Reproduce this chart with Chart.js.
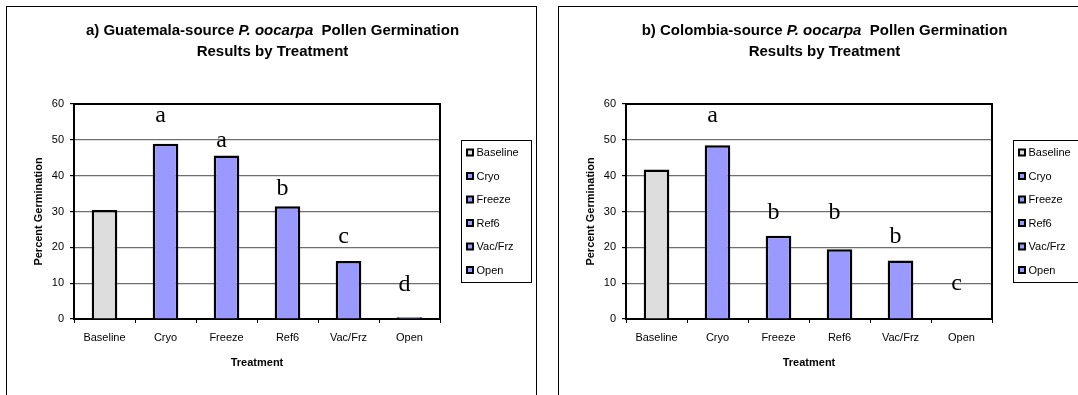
<!DOCTYPE html>
<html>
<head>
<meta charset="utf-8">
<script src="https://cdn.jsdelivr.net/npm/chart.js@4"></script>
<style>
  html, body { margin: 0; padding: 0; background: #fff; overflow: hidden; width: 1078px; height: 395px; }
  .frame { position: absolute; top: 6px; width: 529px; height: 400px; border: 1px solid #000; background: #fff; }
  canvas { display: block; }
</style>
</head>
<body>
<div class="frame" style="left:6px"><canvas id="chartA" width="529" height="400"></canvas></div>
<div class="frame" style="left:558px"><canvas id="chartB" width="529" height="400"></canvas></div>
<script>
// ---- data ----
const categories = ['Baseline', 'Cryo', 'Freeze', 'Ref6', 'Vac/Frz', 'Open'];
const guatemalaGermination = [30.4, 48.9, 45.6, 31.5, 16.2, 0.5];
const colombiaGermination = [41.7, 48.5, 23.2, 19.5, 16.3, 0];
const guatemalaLetters = ['', 'a', 'a', 'b', 'c', 'd'];
const guatemalaLetterAt = [null, 55.1, 48.1, 34.6, 21.3, 7.9];
const colombiaLetters = ['', 'a', 'b', 'b', 'b', 'c'];
const colombiaLetterAt = [null, 55.0, 28.0, 28.0, 21.3, 8.2];
const yMin = 0, yMax = 60, yStep = 10;
const titleA = [['a) Guatemala-source ', false], ['P. oocarpa', true], ['  Pollen Germination', false]];
const titleB = [['b) Colombia-source ', false], ['P. oocarpa', true], ['  Pollen Germination', false]];
const titleLine2 = 'Results by Treatment';
const xTitle = 'Treatment';
const yTitle = 'Percent Germination';

// ---- styles ----
const SANS = '"Liberation Sans", Arial, Helvetica, sans-serif';
const SERIF = '"Liberation Serif", "Times New Roman", serif';
const GREY = '#dddddd';
const BLUE = '#9999ff';
const barColors = categories.map((c, i) => i === 0 ? GREY : BLUE);

function makeChart(canvasId, values, titleParts, letters, letterAt) {
  const overlay = {
    id: 'overlay',
    afterDraw(chart) {
      const ctx = chart.ctx;
      const ca = chart.chartArea;
      const xs = chart.scales.x, ys = chart.scales.y;
      ctx.save();
      // plot frame (top + right)
      ctx.strokeStyle = '#000';
      ctx.lineWidth = 2;
      ctx.beginPath();
      ctx.moveTo(ca.left, ca.top);
      ctx.lineTo(ca.right, ca.top);
      ctx.lineTo(ca.right, ca.bottom);
      ctx.stroke();

      // title
      ctx.fillStyle = '#000';
      ctx.textBaseline = 'alphabetic';
      ctx.textAlign = 'left';
      const fN = 'bold 15px ' + SANS, fI = 'italic bold 15px ' + SANS;
      let total = 0;
      titleParts.forEach(([t, it]) => { ctx.font = it ? fI : fN; total += ctx.measureText(t).width; });
      let tx = 265.5 - total / 2;
      titleParts.forEach(([t, it]) => { ctx.font = it ? fI : fN; ctx.fillText(t, tx, 27.5); tx += ctx.measureText(t).width; });
      ctx.font = fN;
      ctx.textAlign = 'center';
      ctx.fillText(titleLine2, 265.5, 49);

      // axis titles
      ctx.font = 'bold 11px ' + SANS;
      ctx.fillText(xTitle, (ca.left + ca.right) / 2, 358.5);
      ctx.save();
      ctx.translate(35, (ca.top + ca.bottom) / 2);
      ctx.rotate(-Math.PI / 2);
      ctx.fillText(yTitle, 0, 0);
      ctx.restore();

      // significance letters
      ctx.font = '24px ' + SERIF;
      ctx.textAlign = 'center';
      letters.forEach((l, i) => {
        if (!l) return;
        ctx.fillText(l, xs.getPixelForValue(i) - 5, ys.getPixelForValue(letterAt[i]));
      });

      // legend
      const lx = 454, ly = 133, lw = 70, lh = 142;
      ctx.fillStyle = '#fff';
      ctx.fillRect(lx, ly, lw, lh);
      ctx.strokeStyle = '#000';
      ctx.lineWidth = 1;
      ctx.strokeRect(lx + 0.5, ly + 0.5, lw, lh);
      ctx.font = '11px ' + SANS;
      ctx.textAlign = 'left';
      ctx.textBaseline = 'middle';
      categories.forEach((c, i) => {
        const cy = ly + 12.5 + i * 23.5;
        ctx.fillStyle = '#000';
        ctx.fillRect(lx + 5, cy - 4, 8, 8);
        ctx.fillStyle = barColors[i];
        ctx.fillRect(lx + 7, cy - 2, 4, 4);
        ctx.fillStyle = '#000';
        ctx.fillText(c, lx + 15.5, cy + 0.5);
      });
      ctx.restore();
    }
  };

  return new Chart(document.getElementById(canvasId), {
    type: 'bar',
    data: {
      labels: categories,
      datasets: [{
        data: values,
        backgroundColor: barColors,
        borderColor: '#000',
        borderWidth: 2.5,
        barPercentage: 0.42,
        categoryPercentage: 1.0
      }]
    },
    options: {
      responsive: false,
      animation: false,
      devicePixelRatio: 1,
      layout: { padding: { top: 97, right: 96, bottom: 0, left: 0 } },
      plugins: { legend: { display: false }, title: { display: false }, tooltip: { enabled: false } },
      scales: {
        x: {
          type: 'category',
          offset: true,
          grid: { offset: true, drawOnChartArea: false, drawTicks: true, tickLength: 4, color: '#000', tickColor: '#000', lineWidth: 1 },
          border: { display: true, color: '#000', width: 2 },
          ticks: { color: '#000', font: { family: SANS, size: 11 }, padding: 8, maxRotation: 0, autoSkip: false },
          afterFit(s) { s.height = 88; }
        },
        y: {
          min: yMin, max: yMax,
          grid: { color: '#6e6e6e', lineWidth: 1.2, tickLength: 4, tickColor: '#000' },
          border: { display: true, color: '#000', width: 2 },
          ticks: { stepSize: yStep, color: '#000', font: { family: SANS, size: 11 }, padding: 6 },
          afterFit(s) { s.width = 67; }
        }
      }
    },
    plugins: [overlay]
  });
}

makeChart('chartA', guatemalaGermination, titleA, guatemalaLetters, guatemalaLetterAt);
makeChart('chartB', colombiaGermination, titleB, colombiaLetters, colombiaLetterAt);
</script>
</body>
</html>
